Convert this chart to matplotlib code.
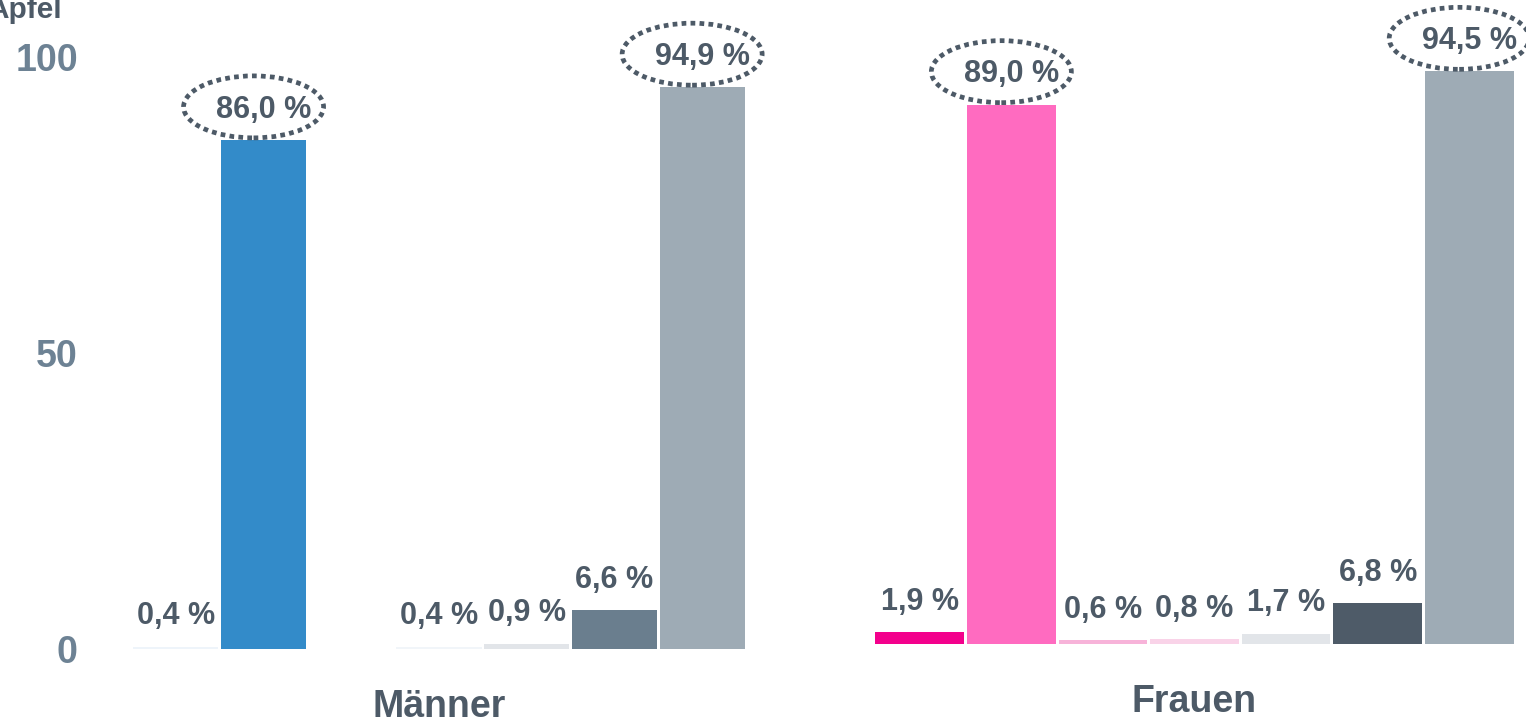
import numpy as np
import matplotlib
matplotlib.use("Agg")
import matplotlib.pyplot as plt
from matplotlib.patches import Ellipse
from matplotlib.transforms import ScaledTranslation

plt.rcParams['font.family'] = ['Liberation Sans', 'DejaVu Sans']
plt.rcParams['font.weight'] = 'bold'

# --- Daten ---
titel = 'Äpfel'
gruppen = ['Männer', 'Frauen']
werte_maenner = [0.4, 86.0, np.nan, 0.4, 0.9, 6.6, 94.9]
werte_frauen = [1.9, 89.0, 0.6, 0.8, 1.7, 6.8, 94.5]
farben_maenner = ['#eef4fa', '#338bc9', '#ffffff', '#f1f5f9', '#e2e5e9', '#6a7e8e', '#9eabb5']
farben_frauen = ['#f3008c', '#ff6bc0', '#f7b3d9', '#f9d3e8', '#e2e5e9', '#4e5b68', '#9eabb5']
markiert_maenner = [1, 6]   # Balken mit gepunkteter Ellipse
markiert_frauen = [1, 6]
yticks = [0, 50, 100]

textfarbe = '#4d5a67'
tickfarbe = '#6d8294'

fig = plt.figure(figsize=(15.26, 7.23), dpi=100)
ax_m = fig.add_axes([132/1526, 74/723, 614/1526, 592/723])
ax_f = fig.add_axes([874/1526, 79/723, 641/1526, 606/723])


def zeichne(ax, werte, farben, markiert, name):
    x = np.arange(len(werte))
    for i, (v, c) in enumerate(zip(werte, farben)):
        if np.isnan(v):
            continue
        ax.bar(x[i], v, width=0.97, color=c, linewidth=0)
        label = f'{v:.1f}'.replace('.', ',') + ' %'
        ax.annotate(label, (x[i], v), xytext=(0, 16), textcoords='offset points',
                    ha='center', va='baseline', fontsize=22, fontweight='bold',
                    color=textfarbe, annotation_clip=False)
        if i in markiert:
            tr = fig.dpi_scale_trans + ScaledTranslation(x[i], v, ax.transData)
            ell = Ellipse((-0.10, 0.33), 1.40, 0.62, transform=tr, fill=False,
                          edgecolor=textfarbe, linewidth=3.4, linestyle=(0, (1.0, 0.9)),
                          clip_on=False)
            fig.add_artist(ell)
    ax.set_xlim(-0.5, len(werte) - 0.5)
    ax.set_ylim(0, 100)
    for s in ax.spines.values():
        s.set_visible(False)
    ax.set_xticks([])
    ax.annotate(name, (0.5, 0), xycoords='axes fraction', xytext=(0, -49),
                textcoords='offset points', ha='center', va='baseline',
                fontsize=27, fontweight='bold', color=textfarbe)


zeichne(ax_m, werte_maenner, farben_maenner, markiert_maenner, gruppen[0])
zeichne(ax_f, werte_frauen, farben_frauen, markiert_frauen, gruppen[1])

ax_m.set_yticks(yticks)
ax_m.set_yticklabels([str(t) for t in yticks], fontsize=27, fontweight='bold', color=tickfarbe)
ax_m.tick_params(axis='y', length=0, pad=39)
ax_f.set_yticks([])

fig.text(62/1526, 1 - 18/723, titel, ha='right', va='baseline',
         fontsize=21.5, fontweight='bold', color=textfarbe)

fig.savefig('out.png', dpi=100)
